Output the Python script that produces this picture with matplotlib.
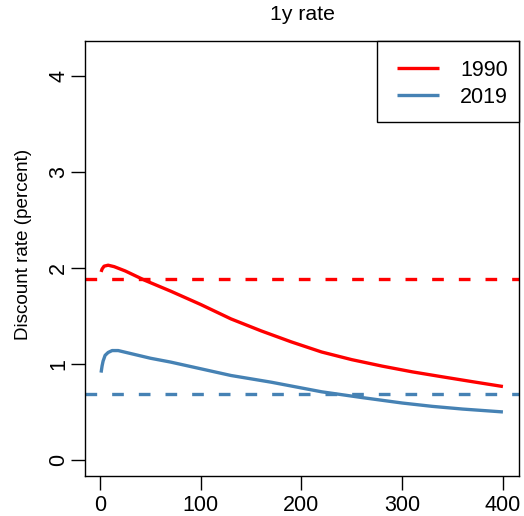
import matplotlib
matplotlib.use('Agg')
import matplotlib.pyplot as plt
from matplotlib.patches import Rectangle

# horizon (years) and discount rate (percent)
years_1990 = [1, 2, 4, 8, 14, 25, 45, 70, 100, 130, 160, 190, 220, 250, 280, 310, 340, 370, 400]
rate_1990 = [1.96, 1.99, 2.02, 2.03, 2.015, 1.97, 1.87, 1.76, 1.62, 1.47, 1.345, 1.23, 1.125, 1.045, 0.978, 0.918, 0.866, 0.815, 0.765]

years_2019 = [1, 2, 3, 5, 8, 12, 18, 30, 50, 70, 100, 130, 170, 200, 220, 260, 300, 330, 360, 400]
rate_2019 = [0.91, 0.98, 1.03, 1.09, 1.12, 1.14, 1.14, 1.11, 1.06, 1.02, 0.95, 0.88, 0.81, 0.75, 0.71, 0.65, 0.593, 0.558, 0.53, 0.50]

flat_1990 = 1.89
flat_2019 = 0.69

labels = ['1990', '2019']
colors = ['red', 'steelblue']

plt.rcParams['font.family'] = ['Liberation Sans', 'DejaVu Sans']
fs = 15.5

fig = plt.figure(figsize=(5.24, 5.16), dpi=100)
ax = fig.add_axes([85/524, 1 - 476/516, 434/524, 435/516])

ax.plot(years_1990, rate_1990, color=colors[0], lw=2.4, label=labels[0], solid_capstyle='butt')
ax.plot(years_2019, rate_2019, color=colors[1], lw=2.4, label=labels[1], solid_capstyle='butt')
ax.axhline(flat_1990, color=colors[0], lw=2.4, dashes=(3.5, 4.5))
ax.axhline(flat_2019, color=colors[1], lw=2.4, dashes=(3.5, 4.5))

# R-style 4% padding
xr = 400 - 1
ax.set_xlim(1 - 0.04 * xr, 400 + 0.04 * xr)
ax.set_ylim(-0.04 * 4.2, 4.2 * 1.04)
ax.set_xticks([0, 100, 200, 300, 400])
ax.set_yticks([0, 1, 2, 3, 4])
ax.tick_params(direction='out', length=10, width=1, labelsize=fs)
ax.tick_params(axis='x', pad=4)
ax.tick_params(axis='y', pad=1.5)
for lab in ax.get_yticklabels():
    lab.set_rotation(90)
    lab.set_va('center')
for s in ax.spines.values():
    s.set_linewidth(1)

ax.set_ylabel('Discount rate (percent)', fontsize=13.6)
ax.yaxis.set_label_coords(-(85 - 32) / 434, (476 - 244) / 435)
ax.set_title('1y rate', fontsize=15.3, y=1 + 26.5/435, va='center', pad=0)

# legend box like R: wider padding on the left than on the right
ax.add_patch(Rectangle(((377 - 85) / 434, (476 - 122) / 435), (519 - 377) / 434, (122 - 41) / 435,
                       transform=ax.transAxes, facecolor='white', edgecolor='black',
                       lw=1, clip_on=False, zorder=4))
leg = ax.legend(loc='upper left', bbox_to_anchor=((397 - 85) / 434, (476 - 60) / 435),
                borderaxespad=0, borderpad=0, fontsize=fs, frameon=False,
                handlelength=1.95, handletextpad=0.98, labelspacing=0.28)
leg.set_zorder(5)

fig.savefig('out.png', dpi=100)
